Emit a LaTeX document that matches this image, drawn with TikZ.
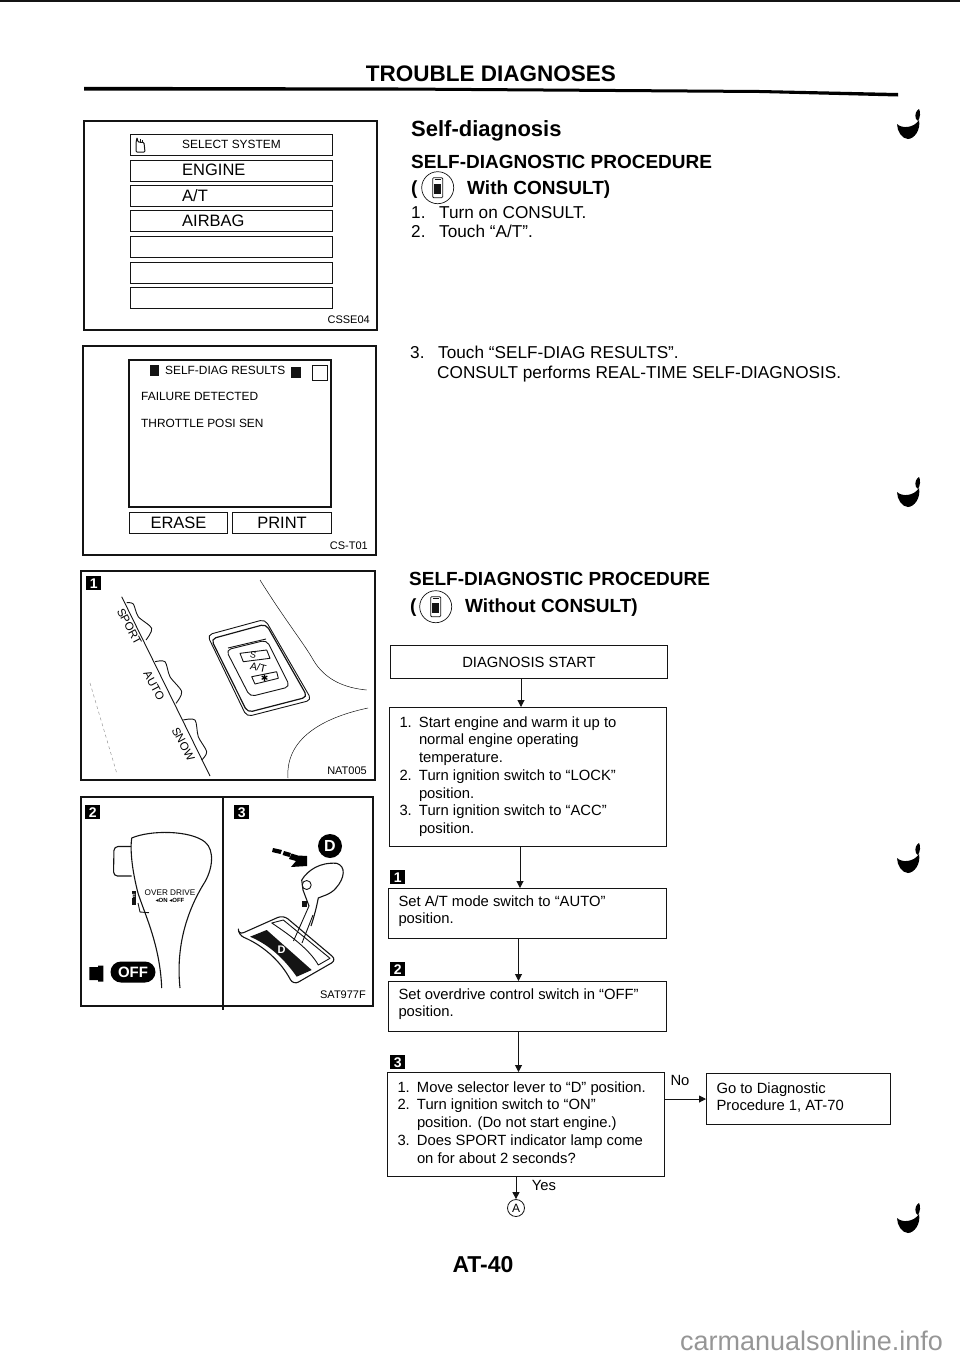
\documentclass[tikz,border=0pt]{standalone}
\usepackage{fontspec}
\setmainfont{Liberation Sans}
\newfontfamily\symfont{DejaVu Sans}
\usepackage{xcolor}
\usepackage{tikz}
\usetikzlibrary{arrows.meta}
\definecolor{ScanBlack}{RGB}{20,20,20}
\definecolor{MarkGray} {RGB}{150,150,150}

\newcommand{\fs}[1]{\fontsize{#1}{#1}\selectfont}
\newcommand{\boxtext}[3]{\parbox[c][#2][t]{#1}{\raggedright #3}}
\newcommand{\num}[1]{\makebox[19.5pt][l]{#1}}

\tikzset{
  frame/.style={draw=ScanBlack, line width=1.1pt},
  screenrow/.style={draw=ScanBlack, line width=1pt, anchor=north west, minimum width=202pt, minimum height=21pt, inner sep=0pt},
  rowlabel/.style={font=\fs{16.5}, anchor=west, inner sep=0pt},
  screenlabel/.style={font=\fs{11.9}, anchor=west, inner sep=0pt},
  figcode/.style={font=\fs{11}, anchor=east, inner sep=0pt},
  badge/.style={fill=black, text=white, font=\bfseries\fs{14}, minimum width=15pt, minimum height=14pt, inner sep=0pt},
  flowbox/.style={draw=ScanBlack, line width=1pt, anchor=north west, font=\fontsize{14.8}{17.75}\selectfont, inner xsep=10pt, inner ysep=7pt},
  flowline/.style={draw=ScanBlack, line width=1pt, -{Triangle[length=7pt,width=7pt]}},
  bodytext/.style={font=\fs{17.2}, anchor=base west, inner sep=0pt},
  headtext/.style={font=\bfseries\fs{19}, anchor=base west, inner sep=0pt},
  outline/.style={draw=ScanBlack, line width=.9pt, line join=round},
  consult icon/.pic={
    \draw[ScanBlack, line width=.7pt] (0,0) circle[radius=16pt];
    \draw[ScanBlack, line width=.8pt, rounded corners=1pt] (-5,-10) rectangle (5,10);
    \fill[ScanBlack] (-3.5,-4) rectangle (3.5,6);
    \draw[ScanBlack, line width=.8pt] (-3,-8) -- (3,-8);
  },
  bind mark/.pic={
    \fill[black] (-11,0) .. controls (-6,5) and (6,4) .. (11,-4) .. controls (13,6) and (6,15) .. (0,15) .. controls (-6,15) and (-11,7) .. (-11,0) -- cycle;
    \fill[black] (8,-5) .. controls (6,-10) and (9,-14) .. (11,-15) .. controls (13,-12) and (12,-6) .. (10,-3) -- cycle;
  }
}

\begin{document}
\begin{tikzpicture}[x=1pt, y=-1pt]
  \useasboundingbox (0,0) rectangle (960,1358);

  % page furniture
  \draw[ScanBlack, line width=2.2pt] (0,1.2) -- (960,1.2);
  \fill[black] (84,86.8) -- (400,87.5) -- (760,90) -- (898,93) -- (898,96.5) -- (760,93) -- (400,90.5) -- (84,90.5) -- cycle;
  \node (title) [font=\bfseries\fs{22.5}, inner sep=0pt] at (491,74) {TROUBLE DIAGNOSES};
  \node (pageno) [font=\bfseries\fs{23}, inner sep=0pt] at (483,1265) {AT-40};
  \node (site) [font=\fs{27}, text=MarkGray, anchor=base west, inner sep=0pt] at (680,1350) {carmanualsonline.info};
  \foreach \yy in {124,492,858,1218} \pic at (908,\yy) {bind mark};

  % select system screen
  \draw[frame] (84,121) rectangle (377,330);
  \node (rowsel) [screenrow] at (130,134) {};
  \node (rowen)  [screenrow] at (130,160) {};
  \node (rowat)  [screenrow] at (130,185) {};
  \node (rowair) [screenrow] at (130,210) {};
  \node (rowa)   [screenrow] at (130,236) {};
  \node (rowb)   [screenrow] at (130,262) {};
  \node (rowc)   [screenrow] at (130,287) {};
  \node (labsel) [screenlabel] at (182,144.5) {SELECT SYSTEM};
  \node (laben)  [rowlabel] at (182,170) {ENGINE};
  \node (labat)  [rowlabel] at (182,195.5) {A/T};
  \node (labair) [rowlabel] at (182,221) {AIRBAG};
  \draw[ScanBlack, line width=1pt, rounded corners=1pt] (136,152) -- (136,143) -- (137,137.5) -- (138,142) -- (144,142.5) -- (145,152) -- cycle;
  \draw[ScanBlack, line width=.7pt] (140,139) -- (140,143) (142.5,140) -- (142.5,143);
  \node (csse) [figcode] at (370,320) {CSSE04};

  % results screen
  \draw[frame] (83,346) rectangle (376,555);
  \draw[frame] (129,360) rectangle (331,507);
  \fill[ScanBlack] (149.5,365) rectangle (159,376);
  \fill[ScanBlack] (291,367) rectangle (301,378);
  \draw[ScanBlack, line width=1pt] (312,365) rectangle (327,380);
  \node (labres) [screenlabel] at (165,370) {SELF-DIAG RESULTS};
  \node (labfail) [screenlabel] at (141,396) {FAILURE DETECTED};
  \node (labthr) [screenlabel] at (141,423) {THROTTLE POSI SEN};
  \node (erase) [screenrow, minimum width=98pt, font=\fs{16.5}] at (129,512) {ERASE};
  \node (print) [screenrow, minimum width=99pt, font=\fs{16.5}] at (232,512) {PRINT};
  \node (cst) [figcode] at (368,546) {CS-T01};

  % mode switch figure
  \draw[frame] (81,571) rectangle (375,780);
  \node (badgea) [badge, anchor=north west] at (86,576) {1};
  \draw[outline] (121.7,596.7) -- (210,776);
  \draw[outline] plot[smooth] coordinates {(126.7,602.7) (133.3,604) (138.3,616.7) (151.7,628.3) (146,640)};
  \draw[outline] plot[smooth] coordinates {(155,661.7) (165,661.7) (170,676.7) (181.7,691.7) (176,703.3)};
  \draw[outline] plot[smooth] coordinates {(183.3,720) (195,720) (198.3,736.7) (206.7,751.7) (201.7,760)};
  \node (sport) [font=\fs{11.5}, rotate=-62, inner sep=0pt] at (129.3,626.7) {SPORT};
  \node (auto)  [font=\fs{11.5}, rotate=-62, inner sep=0pt] at (154,686) {AUTO};
  \node (snow)  [font=\fs{11.5}, rotate=-62, inner sep=0pt] at (183.3,744) {SNOW};
  \draw[outline, rounded corners=5pt] (207.3,635) -- (265,619.3) -- (311.7,700) -- (246.7,716.7) -- cycle;
  \draw[outline, rounded corners=5pt, line width=1.2pt] (211,639) -- (266,624) -- (307.5,697) -- (247.5,712.5) -- cycle;
  \draw[outline, rounded corners=5pt] (226,650) -- (266.7,640) -- (290,686.7) -- (250,696.7) -- cycle;
  \draw[outline] (228,648) -- (266,639);
  \draw[outline] (240,653.3) -- (266.7,650) -- (270,658.3) -- (243.3,661.7) -- cycle;
  \node (lamps) [font=\fs{9}, rotate=-10, inner sep=0pt] at (253,654.5) {S};
  \node (atlab) [font=\fs{10.5}, rotate=-12, inner sep=0pt] at (258.3,667.5) {A/T};
  \draw[outline] (251.7,676.7) -- (276.7,671.7) -- (278.3,678.3) -- (255,684) -- cycle;
  \node (lampw) [font=\symfont\fs{9}, inner sep=0pt] at (264.7,677.8) {✱};
  \draw[ScanBlack, line width=.5pt] (260,580) .. controls (285,620) and (305,645) .. (313.3,660) .. controls (325,680) and (345,688) .. (366.7,690);
  \draw[ScanBlack, line width=.5pt] (368,708) .. controls (330,716) and (285,735) .. (288,778);
  \draw[MarkGray, line width=.5pt, dashed] (90,683) -- (116.7,773);
  \node (nat) [figcode] at (367,771) {NAT005};

  % overdrive and selector figure
  \draw[frame] (81,797) rectangle (373,1006);
  \draw[ScanBlack, line width=1.1pt] (223,797) -- (223,1010);
  \node (badgeb) [badge, anchor=north west] at (85,805) {2};
  \node (badgec) [badge, anchor=north west] at (234,805) {3};
  \draw[outline, line width=1.1pt] (161.7,988) .. controls (160,945) and (145,915) .. (138,893) .. controls (132,870) and (130,850) .. (131.7,838) .. controls (150,830) and (190,830) .. (205,842) .. controls (215,850) and (213,870) .. (203,885) .. controls (185,915) and (176,950) .. (180,988);
  \draw[outline, line width=1.1pt, rounded corners=4pt] (131,846.5) -- (114,846.5) -- (113.5,876) -- (131.7,876);
  \fill[ScanBlack] (131.5,891) rectangle (136,905);
  \node (fmark) [font=\bfseries\fs{6}, text=white, inner sep=0pt] at (133.7,896) {F};
  \draw[outline] (138,903) -- (140,912) -- (149,912.7);
  \node (overd) [font=\fs{8.2}, inner sep=0pt] at (170,892.5) {OVER DRIVE};
  \node (onoff) [font=\bfseries\fs{6}, inner sep=0pt] at (170,900.5) {{\symfont◂}ON {\symfont◂}OFF};
  \fill[black] (89.3,967) -- (98,967) -- (98,965.5) -- (103.3,965.5) -- (103.3,981.5) -- (98,981.5) -- (98,980) -- (89.3,980) -- cycle;
  \node (offpill) [fill=black, text=white, font=\bfseries\fs{15}, rounded corners=10.5pt, minimum width=45pt, minimum height=21pt, inner sep=0pt] at (133,972) {OFF};
  \node (dcircle) [circle, fill=black, text=white, font=\bfseries\fs{16}, minimum size=24pt, inner sep=0pt] at (330,846) {D};
  \fill[black] (273,848) -- (282,850) -- (280.5,854) -- (272,852) -- cycle;
  \fill[black] (284,851) -- (291,853) -- (289.5,857) -- (282.5,855) -- cycle;
  \fill[black] (291.5,853.5) -- (298,855.5) -- (307,856) -- (307,866) -- (291,867) -- (296,861) -- (289,859) -- cycle;
  \draw[outline, line width=1.1pt] (301.7,880) .. controls (308,870) and (320,862) .. (336.7,863.3) .. controls (346,866) and (345,878) .. (336,888) .. controls (330,895) and (322,896) .. (318.3,898) .. controls (316,910) and (313,920) .. (311,926);
  \draw[outline, line width=1.1pt] (301.7,880) -- (303,890) -- (309,906);
  \draw[outline] (309,906) -- (293.5,941);
  \draw[outline] (313,915) -- (302,943);
  \draw[outline, fill=white] (306.7,885) circle[radius=4.5pt];
  \fill[ScanBlack] (302,901) rectangle (307,907);
  \draw[outline, line width=1.1pt, rounded corners=6pt] (238.3,935) -- (283.3,915) -- (336.7,960) -- (293.3,985) .. controls (280,960) and (262,945) .. cycle;
  \fill[ScanBlack] (250,936.7) -- (266.7,930) -- (311.7,970) -- (296.7,976.7) .. controls (285,960) and (270,945) .. cycle;
  \draw[outline] (271.7,923) -- (283.3,920) -- (330,958.3) -- (318.3,965) .. controls (310,950) and (290,935) .. cycle;
  \node (dgate) [font=\bfseries\fs{11}, text=white, inner sep=0pt] at (281.7,950) {D};
  \node (sat) [figcode] at (366,995) {SAT977F};

  % right column text
  \node (heada) [font=\bfseries\fs{22}, anchor=base west, inner sep=0pt] at (411,136) {Self-diagnosis};
  \node (headb) [headtext] at (411,168) {SELF-DIAGNOSTIC PROCEDURE};
  \node (parena) [headtext] at (411,194) {(};
  \pic at (437.7,187.7) {consult icon};
  \node (witha) [headtext] at (467,194) {With CONSULT)};
  \node (texta) [bodytext] at (411,218) {1.};
  \node (textb) [bodytext] at (439,218) {Turn on CONSULT.};
  \node (textc) [bodytext] at (411,237) {2.};
  \node (textd) [bodytext] at (439,237) {Touch “A/T”.};
  \node (texte) [bodytext] at (410,358) {3.};
  \node (textf) [bodytext] at (438,358) {Touch “SELF-DIAG RESULTS”.};
  \node (textg) [bodytext] at (437,378) {CONSULT performs REAL-TIME SELF-DIAGNOSIS.};
  \node (headc) [headtext] at (409,585) {SELF-DIAGNOSTIC PROCEDURE};
  \node (parenb) [headtext] at (410,612) {(};
  \pic at (435.7,606.7) {consult icon};
  \node (withb) [headtext] at (465,612) {Without CONSULT)};

  % flow chart
  \node (start) [flowbox, inner xsep=0pt, minimum width=277pt, minimum height=33pt, align=center] at (390,645) {DIAGNOSIS START};
  \node (prep) [flowbox, inner ysep=9pt] at (389,707) {\boxtext{257pt}{121pt}{\num{1.}Start engine and warm it up to\\\num{}normal engine operating\\\num{}temperature.\\\num{2.}Turn ignition switch to “LOCK”\\\num{}position.\\\num{3.}Turn ignition switch to “ACC”\\\num{}position.}};
  \node (autom) [flowbox] at (388,888) {\boxtext{258pt}{36pt}{Set A/T mode switch to “AUTO”\\position.}};
  \node (odoff) [flowbox] at (388,981) {\boxtext{258pt}{36pt}{Set overdrive control switch in “OFF”\\position.}};
  \node (selct) [flowbox, inner ysep=9pt] at (387,1072) {\boxtext{257pt}{86pt}{\num{1.}Move selector lever to “D” position.\\\num{2.}Turn ignition switch to “ON”\\\num{}position. (Do not start engine.)\\\num{3.}Does SPORT indicator lamp come\\\num{}on for about 2 seconds?}};
  \node (goto) [flowbox, inner ysep=9pt] at (706,1073) {\boxtext{164pt}{33pt}{Go to Diagnostic\\Procedure 1, AT-70}};
  \node (badged) [badge, anchor=north west] at (390,870) {1};
  \node (badgee) [badge, anchor=north west] at (390,962) {2};
  \node (badgef) [badge, anchor=north west] at (390,1055) {3};
  \node (resa) [draw=ScanBlack, circle, line width=.8pt, minimum size=17pt, inner sep=0pt, font=\fs{12}] at (516,1208) {A};
  \node (labno) [font=\fs{14.8}, inner sep=0pt] at (680,1080) {No};
  \node (labyes) [font=\fs{14.8}, inner sep=0pt] at (544,1185) {Yes};
  \draw[flowline] ([xshift=-8pt]start.south) -- ([xshift=-8pt]start.south |- prep.north);
  \draw[flowline] ([xshift=-8pt]prep.south) -- ([xshift=-8pt]prep.south |- autom.north);
  \draw[flowline] ([xshift=-9pt]autom.south) -- ([xshift=-9pt]autom.south |- odoff.north);
  \draw[flowline] ([xshift=-9pt]odoff.south) -- ([xshift=-9pt]odoff.south |- selct.north);
  \draw[flowline] (selct.south -| resa) -- (resa.north);
  \draw[flowline] (selct.east |- goto.west) -- (goto.west);
\end{tikzpicture}
\end{document}
